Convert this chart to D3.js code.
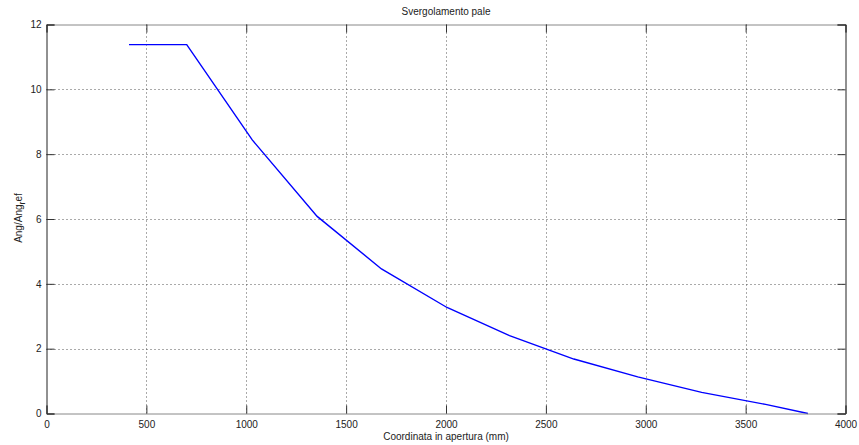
<!DOCTYPE html>
<html><head><meta charset="utf-8">
<script src="https://cdn.jsdelivr.net/npm/d3@7"></script>
<style>body{margin:0;background:#fff}text{font-family:"Liberation Sans",Arial,sans-serif;font-size:10px;fill:#222}</style>
</head><body><svg id="c" width="859" height="445"></svg>
<script>
const xVals = [413, 702, 1030, 1355, 1677, 2005, 2318, 2640, 2960, 3280, 3600, 3812];
const yVals = [11.38, 11.38, 8.44, 6.08, 4.46, 3.27, 2.40, 1.68, 1.13, 0.65, 0.28, 0];
const xTicks = [0, 500, 1000, 1500, 2000, 2500, 3000, 3500, 4000];
const yTicks = [0, 2, 4, 6, 8, 10, 12];
const title = "Svergolamento pale";
const xLabel = "Coordinata in apertura (mm)";

const svg = d3.select("#c");
const L = 46.5, R = 845.5, T = 24.5, B = 413.5;
const x = d3.scaleLinear().domain([0, 4000]).range([L, R]);
const y = d3.scaleLinear().domain([0, 12]).range([B, T]);

// grid
const g = svg.append("g");
g.selectAll(".gx").data(xTicks.slice(1, -1)).join("line")
  .attr("x1", d => Math.round(x(d)) + 0.5).attr("x2", d => Math.round(x(d)) + 0.5)
  .attr("y1", T).attr("y2", B).attr("stroke", "#555").attr("stroke-dasharray", "1,3");
g.selectAll(".gy").data(yTicks.slice(1, -1)).join("line")
  .attr("y1", d => Math.round(y(d)) + 0.5).attr("y2", d => Math.round(y(d)) + 0.5)
  .attr("x1", L).attr("x2", R).attr("stroke", "#555").attr("stroke-dasharray", "1,3");

// data line
const pts = xVals.map((v, i) => [v, yVals[i]]);
svg.append("path").datum(pts)
  .attr("d", d3.line().x(d => x(d[0])).y(d => y(d[1])))
  .attr("fill", "none").attr("stroke", "#0000ff").attr("stroke-width", 1.4);

// axes
const fmt = d3.format("d");
const ax = svg.append("g").attr("transform", `translate(0,${B})`)
  .call(d3.axisBottom(x).tickValues(xTicks).tickFormat(fmt).tickSize(-8).tickPadding(10));
const axT = svg.append("g").attr("transform", `translate(0,${T})`)
  .call(d3.axisTop(x).tickValues(xTicks).tickSize(-8).tickFormat(""));
const ay = svg.append("g").attr("transform", `translate(${L},0)`)
  .call(d3.axisLeft(y).tickValues(yTicks).tickFormat(fmt).tickSize(-8).tickPadding(5));
const ayR = svg.append("g").attr("transform", `translate(${R},0)`)
  .call(d3.axisRight(y).tickValues(yTicks).tickSize(-8).tickFormat(""));
[ax, axT].forEach(a => { a.select(".domain").attr("stroke", "#888"); a.selectAll(".tick line").attr("stroke", "#333"); });
[ay, ayR].forEach(a => { a.select(".domain").attr("stroke", "#222"); a.selectAll(".tick line").attr("stroke", "#333"); });
svg.selectAll(".tick text").attr("fill", "#222").style("font-size", "10px").attr("font-family", null);
ax.selectAll(".tick text").attr("dy", "0.45em");

svg.append("text").attr("x", 446).attr("y", 15).attr("text-anchor", "middle").text(title);
svg.append("text").attr("x", 446).attr("y", 440).attr("text-anchor", "middle").text(xLabel);
const yl = svg.append("text").attr("transform", "translate(22,218) rotate(-90)").attr("text-anchor", "middle");
yl.append("tspan").text("Ang/Ang");
yl.append("tspan").attr("baseline-shift", "-3").style("font-size", "9px").text("r");
yl.append("tspan").attr("baseline-shift", "0").text("ef");
</script></body></html>
